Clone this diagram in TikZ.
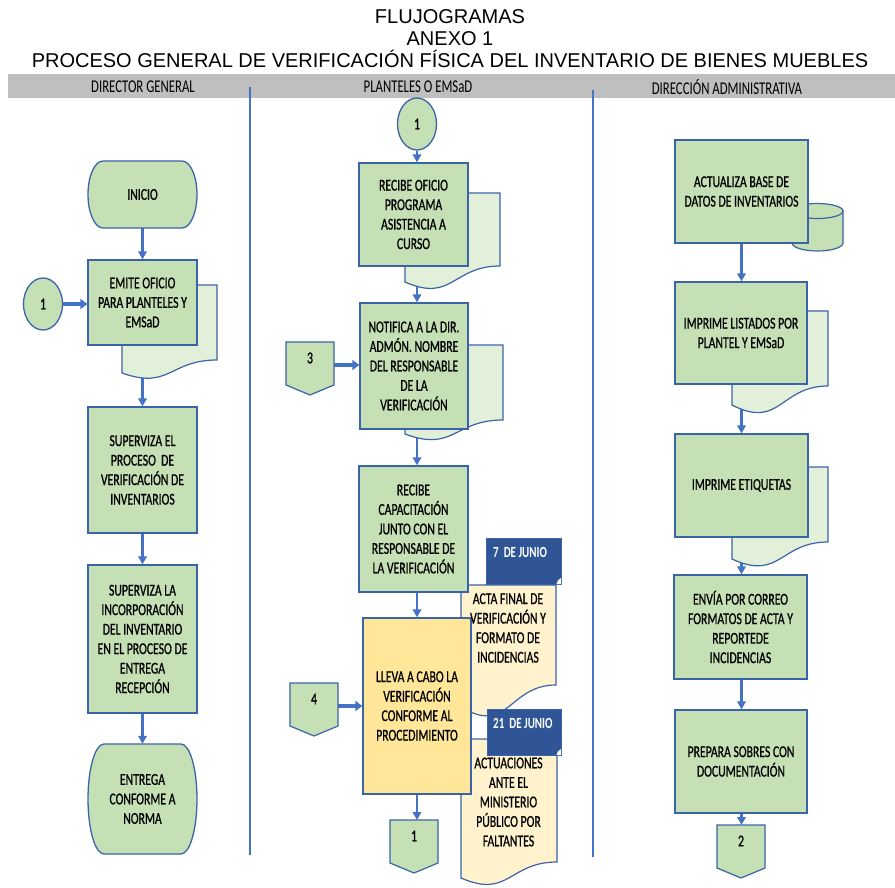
\documentclass[tikz,border=0pt]{standalone}
\usepackage{fontspec}
\setmainfont{Carlito}
\newfontfamily\titlefont{Liberation Sans}
\newfontfamily\boxfont[FakeStretch=0.71,FakeBold=0.8]{Carlito}
\newfontfamily\lblfont[FakeStretch=0.71]{Carlito}
\usetikzlibrary{arrows.meta,shapes.geometric,calc}
\definecolor{greenf}{HTML}{C5E0B4}
\definecolor{docgreen}{HTML}{E2F0D9}
\definecolor{yellowf}{HTML}{FFE699}
\definecolor{docyellow}{HTML}{FFF2CC}
\definecolor{labelblue}{HTML}{2F5597}
\definecolor{bordc}{HTML}{3B64A8}
\definecolor{arrowc}{HTML}{4472C4}
\definecolor{bandgray}{HTML}{BFBFBF}
\pgfdeclarelayer{back}
\pgfdeclarelayer{bg}
\pgfsetlayers{back,bg,main}
% terminal: x0 y0 x1 y1 r
\newcommand\termshape[5]{%
\path[draw=bordc,line width=1.3pt,fill=greenf]
 ({#1+#5},#2) -- ({#3-#5},#2)
 .. controls ({#3-#5+0.552*#5},#2) and (#3,{#2+(#4-#2)/2*(1-0.552)}) .. (#3,{(#2+#4)/2})
 .. controls (#3,{(#2+#4)/2+(#4-#2)/2*0.552}) and ({#3-#5+0.552*#5},#4) .. ({#3-#5},#4)
 -- ({#1+#5},#4)
 .. controls ({#1+#5-0.552*#5},#4) and (#1,{(#2+#4)/2+(#4-#2)/2*0.552}) .. (#1,{(#2+#4)/2})
 .. controls (#1,{#2+(#4-#2)/2*(1-0.552)}) and ({#1+#5-0.552*#5},#2) .. cycle;}
% document: x0 y0 x1 yright yleft fill
\newcommand\docshape[6]{%
\path[draw=bordc,line width=1.2pt,fill=#6] (#1,#2) -- (#3,#2) -- (#3,#4)
 .. controls ({(#1+#3)/2},#4) and ({(#1+#3)/2},{#4+2.31*(#5-#4)}) .. (#1,#5) -- cycle;}
% off-page connector: name x ytop text
\newcommand\offpage[4]{%
\path[draw=bordc,line width=1.2pt,fill=greenf] ({#2-24},#3) -- ({#2+24},#3) -- ({#2+24},{#3+43}) -- (#2,{#3+53}) -- ({#2-24},{#3+43}) -- cycle;
\node[txt] (#1) at (#2,{#3+16}) {#4};
\coordinate (#1-top) at (#2,#3);
\coordinate (#1-right) at ({#2+24},{#3+23});}
\tikzset{
 bfont/.style={font={\boxfont\fontsize{16.5}{19.5}\selectfont}},
 txt/.style={bfont,align=center,inner sep=0pt},
 box/.style={txt,draw=bordc,line width=1.3pt,fill=greenf},
 circ/.style={txt,ellipse,draw=bordc,line width=1.3pt,fill=greenf,minimum width=39,minimum height=52},
 hdr/.style={font={\lblfont\fontsize{18}{20}\selectfont},inner sep=0pt},
 ttl/.style={font={\titlefont\fontsize{20}{24}\selectfont},inner sep=0pt,anchor=base},
 lblbox/.style={draw=bordc,line width=1pt,fill=labelblue,inner sep=0pt},
 lbltxt/.style={font={\lblfont\bfseries\fontsize{15.5}{18}\selectfont},text=white,inner sep=0pt,anchor=base west},
 arr/.style={draw=arrowc,line width=2.2pt,-{Triangle[length=8pt,width=8.5pt]}},
 tarr/.style={draw=arrowc,line width=3.8pt,-{Triangle[length=7pt,width=10pt]}},
 lane/.style={draw=arrowc,line width=2pt}
}
\begin{document}
\begin{tikzpicture}[x=1pt,y=-1pt]
\useasboundingbox (0,0) rectangle (895,888);
\begin{pgfonlayer}{back}
\fill[white] (0,0) rectangle (895,888);
\end{pgfonlayer}
% titles
\node[ttl] (t1) at (450,24) {FLUJOGRAMAS};
\node[ttl] (t2) at (450,45.5) {ANEXO 1};
\node[ttl] (t3) at (450,68) {PROCESO GENERAL DE VERIFICACIÓN FÍSICA DEL INVENTARIO DE BIENES MUEBLES};
% header band
\fill[bandgray] (8,74) rectangle (895,98);
\node[hdr] (h1) at (143,87) {DIRECTOR GENERAL};
\node[hdr] (h2) at (418,87) {PLANTELES O EMSaD};
\node[hdr] (h3) at (727,87) {DIRECCIÓN ADMINISTRATIVA};
\draw[lane] (250,87) -- (250,855);
\draw[lane] (593,90) -- (593,857);
% ===== left column
\termshape{88}{161}{197}{228}{15}
\node[txt,minimum width=109,minimum height=67] (ini) at (142.5,194.5) {INICIO};
\docshape{122}{285}{217}{360}{373}{docgreen}
\node[box,minimum width=109,minimum height=85] (emite) at (142.5,302.5) {EMITE OFICIO\\PARA PLANTELES Y\\EMSaD};
\node[circ] (c1) at (43,304) {1};
\node[box,minimum width=109,minimum height=126] (sup1) at (142.5,470) {SUPERVIZA EL\\PROCESO~~DE\\VERIFICACIÓN DE\\INVENTARIOS};
\node[box,minimum width=109,minimum height=148] (sup2) at (142.5,639) {SUPERVIZA LA\\INCORPORACIÓN\\DEL INVENTARIO\\EN EL PROCESO DE\\ENTREGA\\RECEPCIÓN};
\termshape{88}{744}{197}{854}{16}
\node[txt,minimum width=109,minimum height=110] (entrega) at (142.5,799) {ENTREGA\\CONFORME A\\NORMA};
% ===== middle column
\node[circ] (c1b) at (417,124) {1};
\docshape{405}{193}{500}{266}{282}{docgreen}
\node[box,minimum width=109,minimum height=103] (recibe) at (413.5,214.5) {RECIBE OFICIO\\PROGRAMA\\ASISTENCIA A\\CURSO};
\docshape{405}{345}{503}{420}{434}{docgreen}
\node[box,minimum width=108,minimum height=126] (notif) at (414,366) {NOTIFICA A LA DIR.\\ADMÓN. NOMBRE\\DEL RESPONSABLE\\DE LA\\VERIFICACIÓN};
\offpage{o3}{310}{342}{3}
\docshape{461}{585}{556}{685}{707}{docyellow}
\node[lblbox,minimum width=75,minimum height=46] (l7) at (523.5,561) {};
\fill[white] (561,578) .. controls (558,579) and (557,582) .. (556.5,584) -- (561,584) -- cycle;
\node[lbltxt] (l7t) at (493,557) {7~~DE JUNIO};
\docshape{461}{739}{557}{862}{878}{docyellow}
\node[lblbox,minimum width=74,minimum height=46] (l21) at (524,732) {};
\fill[white] (561,749) .. controls (558,750) and (557,753) .. (556.5,755) -- (561,755) -- cycle;
\node[lbltxt] (l21t) at (493,728) {21~~DE JUNIO};
\node[box,minimum width=109,minimum height=126] (cap) at (413.5,529) {RECIBE\\CAPACITACIÓN\\JUNTO CON EL\\RESPONSABLE DE\\LA VERIFICACIÓN};
\node[box,fill=yellowf,minimum width=108,minimum height=176] (lleva) at (417,706) {LLEVA A CABO LA\\VERIFICACIÓN\\CONFORME AL\\PROCEDIMIENTO};
\node[txt] (acta) at (508,628) {ACTA FINAL DE\\VERIFICACIÓN Y\\FORMATO DE\\INCIDENCIAS};
\node[txt] (actu) at (508.5,802) {ACTUACIONES\\ANTE EL\\MINISTERIO\\PÚBLICO POR\\FALTANTES};
\offpage{o4}{314}{683}{4}
\offpage{o1}{414}{820}{1}
% ===== right column
\path[draw=bordc,line width=1.2pt,fill=greenf] (792,211) -- (792,243)
 .. controls (792,247.4) and (803.4,251) .. (817.5,251)
 .. controls (831.6,251) and (843,247.4) .. (843,243) -- (843,211) -- cycle;
\path[draw=bordc,line width=1.2pt,fill=greenf] (817.5,211) ellipse [x radius=25.5,y radius=7.5];
\node[box,minimum width=133,minimum height=103] (actual) at (741.5,191.5) {ACTUALIZA BASE DE\\DATOS DE INVENTARIOS};
\docshape{732}{311}{828}{386}{405}{docgreen}
\node[box,minimum width=132,minimum height=102] (list) at (741,333) {IMPRIME LISTADOS POR\\PLANTEL Y EMSaD};
\docshape{732}{467}{828}{542}{559}{docgreen}
\node[box,minimum width=133,minimum height=103] (etiq) at (741.5,485.5) {IMPRIME ETIQUETAS};
\node[box,minimum width=133,minimum height=104] (envia) at (740.5,627) {ENVÍA POR CORREO\\FORMATOS DE ACTA Y\\REPORTEDE\\INCIDENCIAS};
\node[box,minimum width=132,minimum height=103] (prep) at (741,761.5) {PREPARA SOBRES CON\\DOCUMENTACIÓN};
\offpage{o2}{741}{825}{2}
% ===== connectors
\begin{pgfonlayer}{bg}
\draw[arr] (ini.south) -- (emite.north);
\draw[tarr] (c1.east) -- (c1.east -| emite.west);
\draw[arr] (emite.south) -- (sup1.north);
\draw[arr] (sup1.south) -- (sup2.north);
\draw[arr] (sup2.south) -- (entrega.north);
\draw[arr] (c1b.south) -- (c1b.south |- recibe.north);
\draw[arr] (c1b |- recibe.south) -- (c1b |- notif.north);
\draw[arr] (c1b |- notif.south) -- (c1b |- cap.north);
\draw[arr] (c1b |- cap.south) -- (lleva.north);
\draw[arr] (lleva.south) -- (lleva.south |- o1-top);
\draw[tarr] (o3-right) -- (o3-right -| notif.west);
\draw[tarr] (o4-right) -- (o4-right -| lleva.west);
\draw[arr] (actual.south) -- (actual.south |- list.north);
\draw[arr] (actual.south |- list.south) -- (actual.south |- etiq.north);
\draw[arr] (actual.south |- etiq.south) -- (actual.south |- envia.north);
\draw[arr] (actual.south |- envia.south) -- (actual.south |- prep.north);
\draw[arr] (actual.south |- prep.south) -- (actual.south |- o2-top);
\end{pgfonlayer}
\end{tikzpicture}
\end{document}
